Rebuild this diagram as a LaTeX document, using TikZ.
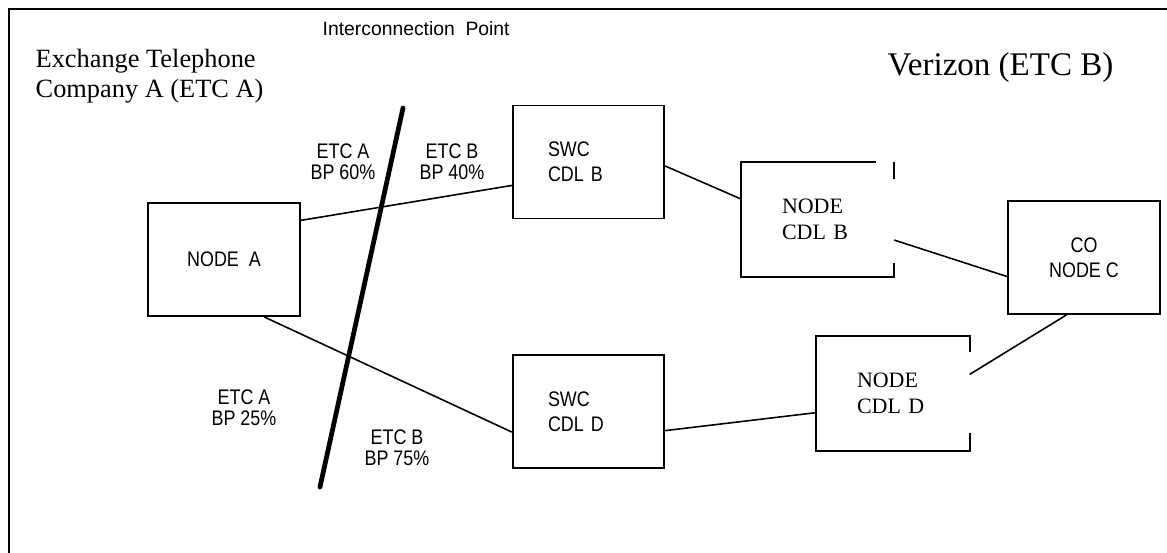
\documentclass[tikz,border=0pt]{standalone}
\usepackage{fontspec}
\setmainfont{Liberation Serif}
\newfontfamily\labelsans[FakeStretch=0.85]{Liberation Sans}
\newfontfamily\plainsans{Liberation Sans}
\usetikzlibrary{calc}
\tikzset{every picture/.append style={thick}}
\tikzset{
  netbox/.style={draw, line width=1.1pt, minimum width=3.03cm, minimum height=2.26cm, inner sep=0pt},
  link/.style={line width=0.9pt},
  bplabel/.style={font=\labelsans\fontsize{12pt}{12pt}\selectfont, align=center, inner sep=0pt},
  boxtext/.style={font=\labelsans\fontsize{12pt}{14.5pt}\selectfont},
  cdltext/.style={font=\fontsize{12.5pt}{15pt}\selectfont},
}

\begin{document}
\begin{tikzpicture}[x=0.02cm, y=-0.02cm]
  \useasboundingbox (0,0) rectangle (1167,553);

  % Frame
  \draw[line width=1.4pt] (9,553) -- (9,9) -- (1167,9);

  % Titles
  \node[anchor=north west, align=left, inner sep=0pt, font=\fontsize{15pt}{17pt}\selectfont] (etcatitle) at (35,49)
    {Exchange Telephone\\Company A (ETC A)};
  \node[anchor=base west, inner sep=0pt, font=\fontsize{18.8pt}{20pt}\selectfont] (etcbtitle) at (887,76) {Verizon (ETC B)};
  \node[anchor=base west, inner sep=0pt, font=\plainsans\fontsize{11pt}{12pt}\selectfont] (iptitle) at (322,36) {Interconnection\ \ Point};

  % Interconnection line
  \coordinate (ipt) at (403,108);
  \coordinate (ipb) at (320,487);
  \draw[line width=2.7pt, line cap=round] (ipt) -- (ipb);

  % --- ETC A side ---
  \node[netbox, boxtext] (nodea) at (224,259.5) {NODE\ \ A};

  % --- ETC B side ---
  \node[netbox, boxtext, align=left, text width=1.62cm] (swcb) at (588.5,162) {SWC\\CDL B};
  \node[netbox, boxtext, align=left, text width=1.62cm] (swcd) at (588.5,411.5) {SWC\\CDL D};
  \node[netbox, draw=none, cdltext, align=left, text width=1.42cm] (ndb) at (817.5,219.5) {NODE\\CDL B};
  \node[netbox, draw=none, cdltext, align=left, text width=1.44cm] (ndd) at (893,393.5) {NODE\\CDL D};
  \node[netbox, boxtext, align=center] (co) at (1084,257.5) {CO\\NODE C};

  % open boxes
  \draw[line width=1.1pt] ($(ndb.north east)+(-18,0)$) -- (ndb.north west) -- (ndb.south west) -- (ndb.south east) -- ++(0,-14);
  \draw[line width=1.1pt] (ndb.north east) -- ++(0,17);
  \draw[line width=1.1pt] ($(ndd.north east)+(0,16)$) -- (ndd.north east) -- (ndd.north west) -- (ndd.south west) -- (ndd.south east) -- ++(0,-18);

  % Links
  \draw[link] (nodea.27) -- (swcb.197);
  \draw[link] (nodea.-55) -- (swcd.195);
  \draw[link] (swcb.-3) -- (ndb.165);
  \draw[link] (ndb.-15) -- (co.194);
  \draw[link] (swcd.-14) -- (ndd.194);
  \draw[link] (co.253) -- (ndd.14);

  % Share labels
  \node[bplabel] (bpa1) at (343,162) {ETC A\\BP 60\%};
  \node[bplabel] (bpb1) at (452,162) {ETC B\\BP 40\%};
  \node[bplabel] (bpa2) at (244,408) {ETC A\\BP 25\%};
  \node[bplabel] (bpb2) at (397,448) {ETC B\\BP 75\%};
\end{tikzpicture}
\end{document}
